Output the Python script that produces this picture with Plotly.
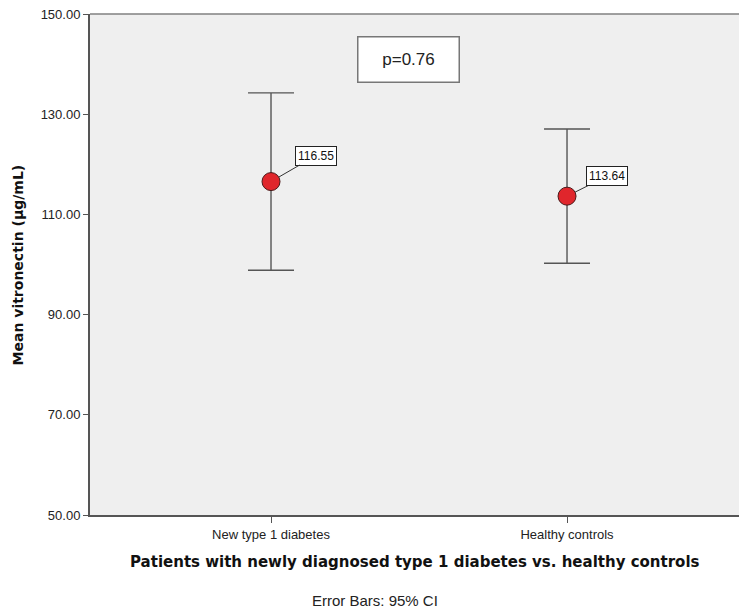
import plotly.graph_objects as go

# Group means of serum vitronectin with 95% confidence intervals
groups = ["New type 1 diabetes", "Healthy controls"]
means = [116.55, 113.64]
ci_low = [98.85, 100.25]
ci_high = [134.25, 127.05]
y_ticks = [50, 70, 90, 110, 130, 150]
p_text = "p=0.76"

err_plus = [h - m for h, m in zip(ci_high, means)]
err_minus = [m - l for m, l in zip(means, ci_low)]

SANS = "Arial, Liberation Sans"
BOLD = "DejaVu Sans, Verdana"

fig = go.Figure()
fig.add_trace(go.Scatter(
    x=groups, y=means, mode="markers",
    marker=dict(size=18, color="#e0262c", line=dict(color="#4a1a1a", width=1)),
    error_y=dict(type="data", symmetric=False, array=err_plus, arrayminus=err_minus,
                 color="#555555", thickness=1.4, width=23),
    showlegend=False, hoverinfo="skip",
))

# Value labels with leader lines
offsets = [(45, -26), (40, -20)]
for g, m, (ax, ay) in zip(groups, means, offsets):
    fig.add_annotation(
        x=g, y=m, text=f"{m:.2f}", showarrow=True, arrowhead=0, arrowwidth=1,
        arrowcolor="#333333", ax=ax, ay=ay, standoff=9,
        bgcolor="white", bordercolor="#222222", borderwidth=1, borderpad=2,
        font=dict(family=SANS, size=12, color="#111111"),
    )

# p-value box
fig.add_annotation(
    x=0.49, y=0.91, xref="paper", yref="paper", text=p_text, showarrow=False,
    xanchor="center", yanchor="middle",
    width=98, height=42, bgcolor="white", bordercolor="#777777", borderwidth=1.5,
    font=dict(family=SANS, size=17, color="#222222"),
)

# Axis titles
fig.add_annotation(
    x=0.5, y=-0.094, xref="paper", yref="paper",
    text="<b>Patients with newly diagnosed type 1 diabetes vs. healthy controls</b>",
    showarrow=False, xanchor="center", yanchor="middle",
    font=dict(family=BOLD, size=15, color="#111111"),
)
fig.add_annotation(
    x=-0.111, y=0.5, xref="paper", yref="paper",
    text="<b>Mean vitronectin (µg/mL)</b>", textangle=-90,
    showarrow=False, xanchor="center", yanchor="middle",
    font=dict(family=BOLD, size=14, color="#111111"),
)

# Footnote
fig.add_annotation(
    x=0.439, y=-0.17, xref="paper", yref="paper", text="Error Bars: 95% CI",
    showarrow=False, xanchor="center", yanchor="middle",
    font=dict(family=SANS, size=15, color="#222222"),
)

# Top frame line
fig.add_shape(type="line", xref="paper", yref="paper", x0=0, x1=1, y0=1, y1=1,
              line=dict(color="#808080", width=1.5))

fig.update_layout(
    width=739, height=612,
    margin=dict(l=90, r=0, t=14, b=97),
    paper_bgcolor="white", plot_bgcolor="#efefef",
    font=dict(family=SANS, color="#222222"),
    xaxis=dict(
        type="category", range=[-0.6115, 1.581], showgrid=False, zeroline=False,
        showline=True, linecolor="#555555", linewidth=2,
        ticks="outside", ticklen=6, tickcolor="#555555",
        tickfont=dict(family=SANS, size=13, color="#222222"),
    ),
    yaxis=dict(
        range=[50, 150], tickvals=y_ticks, ticktext=[f"{v:.2f}" for v in y_ticks],
        showgrid=False, zeroline=False, showline=True, linecolor="#555555", linewidth=2,
        ticks="outside", ticklen=5, tickcolor="#555555",
        tickfont=dict(family=SANS, size=13, color="#222222"),
    ),
)

fig.write_html("out.html")
